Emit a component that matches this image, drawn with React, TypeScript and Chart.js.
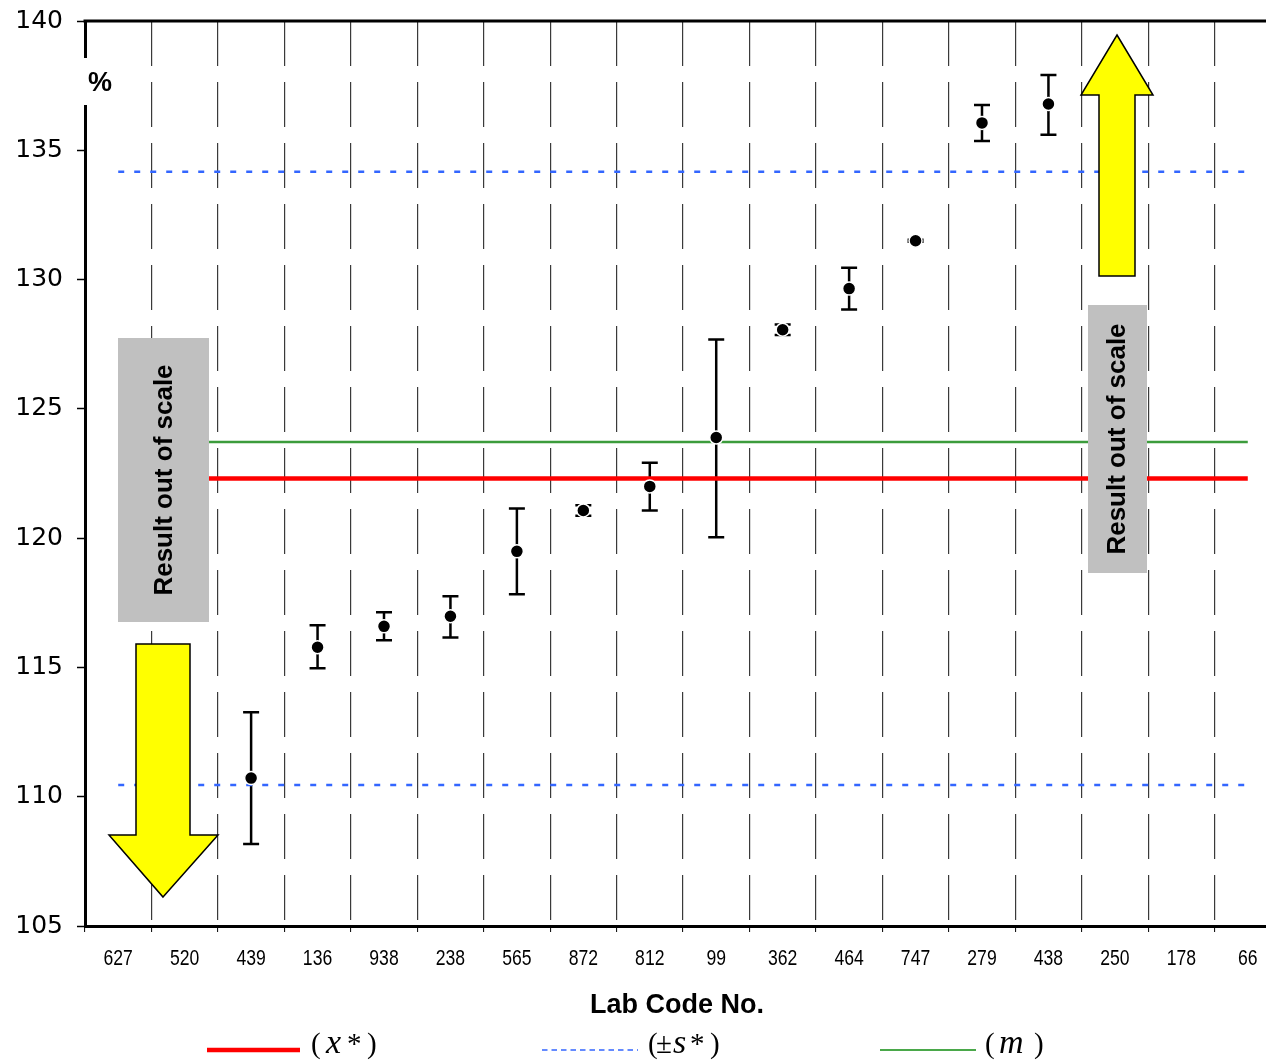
import React, { useEffect, useRef } from 'react';
import { Chart, registerables } from 'chart.js';

Chart.register(...registerables);

// ---- data ----
const LAB_CODES = ['627', '520', '439', '136', '938', '238', '565', '872', '812', '99', '362', '464', '747', '279', '438', '250', '178', '66'];
const RESULTS = [null, null, 110.72, 115.78, 116.59, 116.98, 119.49, 121.07, 122.0, 123.89, 128.06, 129.65, 131.5, 136.06, 136.79, null, null, null];
const ERR_LOW = [null, null, 108.17, 114.97, 116.05, 116.16, 117.83, 120.87, 121.07, 120.03, 127.86, 128.84, 131.46, 135.36, 135.6, null, null, null];
const ERR_HIGH = [null, null, 113.27, 116.63, 117.13, 117.75, 121.15, 121.27, 122.92, 127.68, 128.26, 130.46, 131.54, 136.75, 137.91, null, null, null];
const X_STAR = 122.31;
const M_VALUE = 123.72;
const S_UPPER = 134.17;
const S_LOWER = 110.45;
const Y_MIN = 105;
const Y_MAX = 140;
const Y_STEP = 5;

const OUT_OF_SCALE_TEXT = 'Result out of scale';
const X_TITLE = 'Lab Code No.';
const Y_UNIT = '%';

const W = 1290;
const H = 1061;

const SANS = "'Liberation Sans', Arial, sans-serif";
const SERIF = "'Liberation Serif', 'Times New Roman', serif";

function drawArrow(ctx: CanvasRenderingContext2D, pts: number[][]) {
  ctx.beginPath();
  ctx.moveTo(pts[0][0], pts[0][1]);
  for (let i = 1; i < pts.length; i++) ctx.lineTo(pts[i][0], pts[i][1]);
  ctx.closePath();
  ctx.fillStyle = '#ffff00';
  ctx.fill();
  ctx.lineWidth = 1.5;
  ctx.strokeStyle = '#000';
  ctx.stroke();
}

function drawRotatedText(ctx: CanvasRenderingContext2D, text: string, baseX: number, cy: number) {
  ctx.save();
  ctx.translate(baseX, cy);
  ctx.rotate(-Math.PI / 2);
  ctx.font = `bold 26px ${SANS}`;
  ctx.fillStyle = '#000';
  ctx.textAlign = 'center';
  ctx.textBaseline = 'alphabetic';
  ctx.fillText(text, 0, 0);
  ctx.restore();
}

const overlayPlugin = {
  id: 'overlay',
  beforeDatasetsDraw(chart: any) {
    const { ctx, scales } = chart;
    const x = scales.x;
    const y = scales.y;
    ctx.save();
    ctx.strokeStyle = '#000';
    ctx.lineWidth = 2.5;
    ctx.lineCap = 'butt';
    LAB_CODES.forEach((_c, i) => {
      const lo = ERR_LOW[i];
      const hi = ERR_HIGH[i];
      if (lo == null || hi == null) return;
      const px = x.getPixelForValue(i);
      const yl = y.getPixelForValue(lo);
      const yh = y.getPixelForValue(hi);
      ctx.beginPath();
      ctx.moveTo(px, yl);
      ctx.lineTo(px, yh);
      ctx.moveTo(px - 8, yl);
      ctx.lineTo(px + 8, yl);
      ctx.moveTo(px - 8, yh);
      ctx.lineTo(px + 8, yh);
      ctx.stroke();
    });
    ctx.restore();
  },
  afterDatasetsDraw(chart: any) {
    const { ctx } = chart;
    ctx.save();
    // gray boxes
    ctx.fillStyle = '#c0c0c0';
    ctx.fillRect(118, 338, 91, 284);
    ctx.fillRect(1088, 305, 59, 268);
    drawRotatedText(ctx, OUT_OF_SCALE_TEXT, 172, 480);
    drawRotatedText(ctx, OUT_OF_SCALE_TEXT, 1125, 439);
    // arrows
    drawArrow(ctx, [[1117, 35], [1153, 95], [1135, 95], [1135, 276], [1099, 276], [1099, 95], [1081, 95]]);
    drawArrow(ctx, [[163, 897], [218, 835], [190, 835], [190, 644], [136, 644], [136, 835], [109, 835]]);
    ctx.restore();
  },
  afterDraw(chart: any) {
    const { ctx, chartArea, scales } = chart;
    ctx.save();
    // top frame line
    ctx.strokeStyle = '#000';
    ctx.lineWidth = 3;
    ctx.beginPath();
    ctx.moveTo(chartArea.left - 1.5, chartArea.top);
    ctx.lineTo(chartArea.right, chartArea.top);
    ctx.stroke();
    // category labels (narrow)
    const x = scales.x;
    ctx.fillStyle = '#000';
    ctx.font = `22px ${SANS}`;
    ctx.textAlign = 'center';
    ctx.textBaseline = 'alphabetic';
    LAB_CODES.forEach((lab, i) => {
      const px = x.getPixelForValue(i);
      ctx.save();
      ctx.translate(px, 965);
      ctx.scale(0.8, 1);
      ctx.fillText(lab, 0, 0);
      ctx.restore();
    });
    // unit label
    ctx.fillStyle = '#fff';
    ctx.fillRect(80, 58, 35, 47);
    ctx.fillStyle = '#000';
    ctx.font = `bold 27px ${SANS}`;
    ctx.textAlign = 'left';
    ctx.fillText(Y_UNIT, 88, 91);
    // axis title
    ctx.font = `bold 27px ${SANS}`;
    ctx.textAlign = 'center';
    ctx.fillText(X_TITLE, 677, 1013);
    // legend
    const ly = 1050;
    ctx.lineWidth = 4.5;
    ctx.strokeStyle = '#ff0000';
    ctx.beginPath();
    ctx.moveTo(207, ly);
    ctx.lineTo(300, ly);
    ctx.stroke();
    ctx.lineWidth = 1.5;
    ctx.strokeStyle = '#3366ff';
    ctx.setLineDash([5.5, 4]);
    ctx.beginPath();
    ctx.moveTo(542, ly);
    ctx.lineTo(638, ly);
    ctx.stroke();
    ctx.setLineDash([]);
    ctx.lineWidth = 2;
    ctx.strokeStyle = '#4aa84a';
    ctx.beginPath();
    ctx.moveTo(880, ly);
    ctx.lineTo(976, ly);
    ctx.stroke();

    const base = 1053;
    ctx.textAlign = 'left';
    ctx.fillStyle = '#000';
    const up = `29px ${SERIF}`;
    const it = `italic 34px ${SERIF}`;
    const put = (t: string, f: string, px: number) => {
      ctx.font = f;
      ctx.fillText(t, px, base);
    };
    put('(', up, 311);
    put('x', it, 326);
    put('*', up, 347);
    put(')', up, 367);
    put('(', up, 648);
    put('±', up, 656);
    put('s', it, 673);
    put('*', up, 690);
    put(')', up, 710);
    put('(', up, 985);
    put('m', it, 999);
    put(')', up, 1034);
    ctx.restore();
  },
};

export default function App() {
  const ref = useRef<HTMLCanvasElement>(null);
  useEffect(() => {
    const canvas = ref.current;
    if (!canvas) return;
    const first = LAB_CODES[0];
    const last = LAB_CODES[LAB_CODES.length - 1];
    const chart = new Chart(canvas, {
      type: 'line',
      data: {
        labels: LAB_CODES,
        datasets: [
          {
            label: 'Result',
            data: RESULTS as any,
            showLine: false,
            pointRadius: 6.5,
            pointHoverRadius: 6.5,
            pointBackgroundColor: '#000',
            pointBorderColor: '#fff',
            pointBorderWidth: 1.5,
            order: 0,
          },
          {
            label: 'x*',
            data: [{ x: first, y: X_STAR }, { x: last, y: X_STAR }] as any,
            borderColor: '#ff0000',
            borderWidth: 4.5,
            pointRadius: 0,
            order: 2,
          },
          {
            label: 'm',
            data: [{ x: first, y: M_VALUE }, { x: last, y: M_VALUE }] as any,
            borderColor: '#3c9c3c',
            borderWidth: 2.5,
            pointRadius: 0,
            order: 3,
          },
          {
            label: '+s*',
            data: [{ x: first, y: S_UPPER }, { x: last, y: S_UPPER }] as any,
            borderColor: '#3366ff',
            borderWidth: 2.5,
            borderDash: [6, 10],
            pointRadius: 0,
            order: 4,
          },
          {
            label: '-s*',
            data: [{ x: first, y: S_LOWER }, { x: last, y: S_LOWER }] as any,
            borderColor: '#3366ff',
            borderWidth: 2.5,
            borderDash: [6, 10],
            pointRadius: 0,
            order: 5,
          },
        ],
      },
      options: {
        responsive: false,
        animation: false,
        devicePixelRatio: 1,
        events: [],
        layout: { padding: { top: 21, right: W - 1281, left: 0, bottom: 0 } },
        plugins: {
          legend: { display: false },
          tooltip: { enabled: false },
        },
        scales: {
          x: {
            type: 'category',
            offset: true,
            grid: {
              offset: true,
              color: '#3a3a3a',
              lineWidth: 1.2,
              drawTicks: true,
              tickLength: 6,
              tickColor: '#000',
              tickWidth: 1,
              tickBorderDash: [],
            } as any,
            border: { display: true, color: '#000', width: 3, dash: [45, 16] },
            ticks: {
              autoSkip: false,
              maxRotation: 0,
              minRotation: 0,
              color: 'rgba(0,0,0,0)',
              padding: 10,
              font: { family: SANS, size: 22 },
            },
            afterFit: (s: any) => {
              s.height = 135;
              s.paddingLeft = 0;
              s.paddingRight = 0;
            },
          },
          y: {
            type: 'linear',
            min: Y_MIN,
            max: Y_MAX,
            ticks: {
              stepSize: Y_STEP,
              color: '#000',
              padding: 14,
              font: { family: "'DejaVu Sans', sans-serif", size: 25 },
            },
            grid: {
              drawOnChartArea: false,
              drawTicks: true,
              tickLength: 8,
              tickColor: '#000',
              tickWidth: 1.5,
            },
            border: { display: true, color: '#000', width: 3 },
            afterFit: (s: any) => {
              s.width = 85;
              s.paddingTop = 0;
              s.paddingBottom = 0;
            },
          },
        },
      },
      plugins: [overlayPlugin],
    });
    return () => chart.destroy();
  }, []);

  return (
    <div style={{ position: 'absolute', left: 0, top: 0, width: 1266, height: H, overflow: 'hidden', background: '#fff' }}>
      <canvas ref={ref} width={W} height={H} style={{ display: 'block', width: W, height: H }} />
    </div>
  );
}
